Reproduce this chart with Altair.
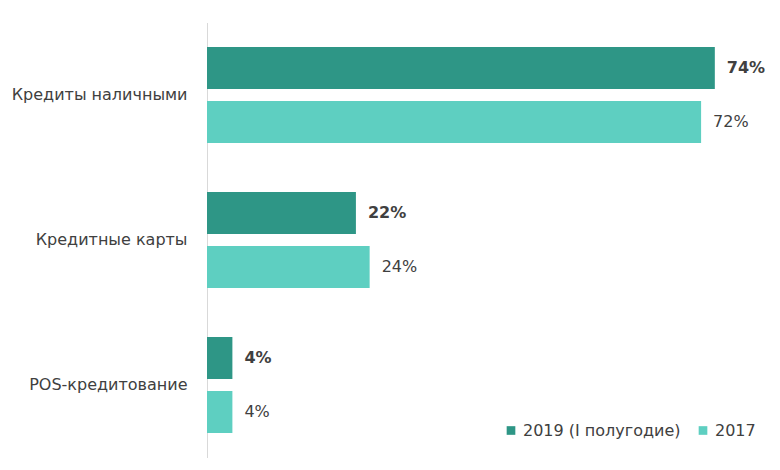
import altair as alt
import pandas as pd

categories = ["Кредиты наличными", "Кредитные карты", "POS-кредитование"]
series = ["2019 (I полугодие)", "2017"]
values_2019 = [0.74, 0.217, 0.037]
values_2017 = [0.72, 0.237, 0.037]
colors = ["#2E9686", "#5ECFC1"]

rows = []
for c, v in zip(categories, values_2019):
    rows.append({"cat": c, "series": series[0], "value": v})
for c, v in zip(categories, values_2017):
    rows.append({"cat": c, "series": series[1], "value": v})
df = pd.DataFrame(rows)

FONT = "DejaVu Sans"
FS = 16

y_enc = alt.Y("cat:N", sort=categories,
              scale=alt.Scale(paddingInner=0.338, paddingOuter=0.169),
              axis=alt.Axis(title=None, ticks=False, domainColor="#D9D9D9", domainWidth=1,
                            labelColor="#404040", labelFontSize=FS, labelFont=FONT,
                            labelPadding=20, labelLimit=300))
yoff = alt.YOffset("series:N", sort=series, scale=alt.Scale(paddingInner=0.222, paddingOuter=0))
x_enc = alt.X("value:Q", scale=alt.Scale(domain=[0, 0.8]), axis=None)

base = alt.Chart(df)

bars = base.mark_bar().encode(
    x=x_enc,
    y=y_enc,
    yOffset=yoff,
    color=alt.Color("series:N", sort=series,
                    scale=alt.Scale(domain=series, range=colors),
                    legend=alt.Legend(title=None, orient="none", direction="horizontal",
                                      legendX=296, legendY=400,
                                      symbolType="square", symbolSize=75,
                                      symbolStrokeWidth=0,
                                      labelFontSize=FS, labelFont=FONT, labelColor="#404040",
                                      columnPadding=14, labelOffset=4)),
)

labels_bold = base.mark_text(align="left", baseline="middle", dx=12, fontSize=FS,
                             font=FONT, fontWeight="bold", color="#404040").encode(
    x=x_enc, y=y_enc, yOffset=yoff,
    text=alt.Text("value:Q", format=".0%"),
).transform_filter(alt.datum.series == series[0])

labels_norm = base.mark_text(align="left", baseline="middle", dx=12, fontSize=FS,
                             font=FONT, color="#404040").encode(
    x=x_enc, y=y_enc, yOffset=yoff,
    text=alt.Text("value:Q", format=".0%"),
).transform_filter(alt.datum.series == series[1])

chart = alt.layer(bars, labels_bold, labels_norm).properties(
    width=549, height=435,
    autosize=alt.AutoSizeParams(type="none"),
    padding={"left": 199, "top": 14.5, "right": 14, "bottom": 4},
    background="white",
).configure_view(stroke=None)

chart.save("out.html", embed_options={"renderer": "svg", "actions": False})
